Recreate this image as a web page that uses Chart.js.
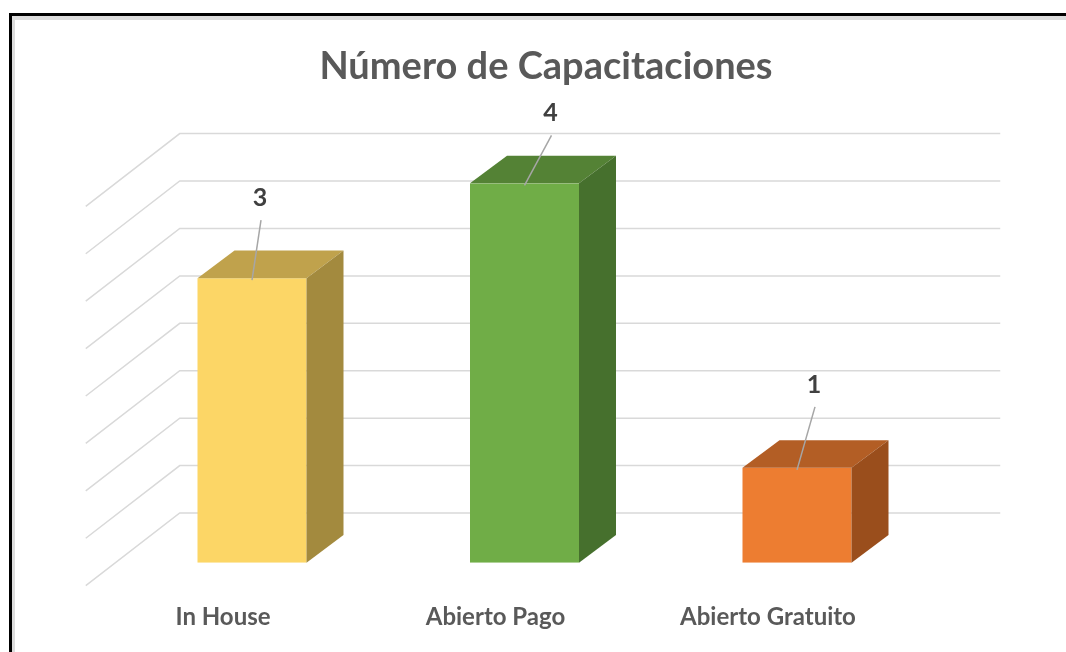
<!DOCTYPE html>
<html>
<head>
<meta charset="utf-8">
<script src="https://cdn.jsdelivr.net/npm/chart.js@4"></script>
<style>
  html, body { margin: 0; padding: 0; background: #fff; }
  #wrap { position: relative; width: 1066px; height: 652px; }
</style>
</head>
<body>
<div id="wrap"><canvas id="myChart"></canvas></div>
<script>
const categories = ['In House', 'Abierto Pago', 'Abierto Gratuito'];
const values = [3, 4, 1];
const yTicks = [0, 0.5, 1, 1.5, 2, 2.5, 3, 3.5, 4];

const frontColors = ['#FCD666', '#70AD47', '#ED7D31'];
const topColors = ['#C0A24C', '#548235', '#B35E25'];
const sideColors = ['#A38A3E', '#46702D', '#9A4E1C'];
// where each value label sits, relative to the top of its bar
const labelOffsets = [[8, -80], [26, -70], [17, -83]];

const depth = { bx: 37, by: -27.6, wallX: 64, wallY: -49.7, floorX: -30, floorY: 23 };

const frame = {
  id: 'frame',
  beforeDraw(chart) {
    const ctx = chart.ctx;
    ctx.save();
    ctx.fillStyle = '#dcdcdc';
    ctx.fillRect(11, 16, 4, 640);
    ctx.fillRect(11, 16, 1060, 4);
    ctx.fillStyle = '#000';
    ctx.fillRect(9, 13, 3, 640);
    ctx.fillRect(9, 13, 1060, 3);
    ctx.restore();
  },
};

const walls = {
  id: 'walls',
  beforeDatasetsDraw(chart) {
    const { ctx, scales: { x, y } } = chart;
    ctx.save();
    ctx.strokeStyle = '#d9d9d9';
    ctx.lineWidth = 1.5;
    y.ticks.forEach((t) => {
      const yp = y.getPixelForValue(t.value);
      ctx.beginPath();
      ctx.moveTo(x.left + depth.floorX, yp + depth.floorY);
      ctx.lineTo(x.left + depth.wallX, yp + depth.wallY);
      ctx.lineTo(x.right + depth.wallX + 3, yp + depth.wallY);
      ctx.stroke();
    });
    ctx.restore();
  },
};

const boxes = {
  id: 'boxes',
  afterDatasetsDraw(chart) {
    const ctx = chart.ctx;
    const meta = chart.getDatasetMeta(0);
    ctx.save();
    meta.data.forEach((bar, i) => {
      const { x, y, base, width } = bar.getProps(['x', 'y', 'base', 'width'], true);
      const l = x - width / 2;
      const r = x + width / 2;
      ctx.fillStyle = topColors[i];
      ctx.beginPath();
      ctx.moveTo(l, y);
      ctx.lineTo(l + depth.bx, y + depth.by);
      ctx.lineTo(r + depth.bx, y + depth.by);
      ctx.lineTo(r, y);
      ctx.closePath();
      ctx.fill();
      ctx.fillStyle = sideColors[i];
      ctx.beginPath();
      ctx.moveTo(r, y);
      ctx.lineTo(r + depth.bx, y + depth.by);
      ctx.lineTo(r + depth.bx, base + depth.by);
      ctx.lineTo(r, base);
      ctx.closePath();
      ctx.fill();

      // value label with leader line
      const lx = x + labelOffsets[i][0];
      const ly = y + labelOffsets[i][1];
      ctx.strokeStyle = '#a6a6a6';
      ctx.lineWidth = 1.5;
      ctx.beginPath();
      ctx.moveTo(lx + 1, ly + 22);
      ctx.lineTo(x, y + 2);
      ctx.stroke();
      ctx.fillStyle = '#404040';
      ctx.font = 'bold 25px Lato';
      ctx.textAlign = 'center';
      ctx.textBaseline = 'middle';
      ctx.fillText(String(values[i]), lx, ly);
    });
    ctx.restore();
  },
  afterDraw(chart) {
    const ctx = chart.ctx;
    ctx.save();
    ctx.fillStyle = '#595959';
    ctx.font = 'bold 38px Lato';
    ctx.textAlign = 'center';
    ctx.textBaseline = 'alphabetic';
    ctx.fillText('Número de Capacitaciones', 546, 79);
    ctx.restore();
  },
};

Chart.defaults.font.family = 'Lato';

new Chart(document.getElementById('myChart'), {
  type: 'bar',
  data: {
    labels: categories,
    datasets: [{
      data: values,
      backgroundColor: frontColors,
      borderWidth: 0,
      barPercentage: 0.4,
      categoryPercentage: 1,
    }],
  },
  options: {
    responsive: true,
    maintainAspectRatio: false,
    animation: false,
    layout: { padding: { top: 183.3, left: 115.75, right: 132.75, bottom: 19.3 } },
    plugins: { legend: { display: false }, tooltip: { enabled: false }, title: { display: false } },
    scales: {
      x: {
        grid: { display: false, drawTicks: false },
        border: { display: false },
        ticks: {
          labelOffset: -29,
          padding: 40,
          color: '#595959',
          font: { size: 24, weight: 'bold', lineHeight: 1.2 },
          maxRotation: 0,
        },
        afterFit(axis) {
          axis.height = 70;
        },
      },
      y: {
        display: false,
        min: 0,
        max: 4,
        afterBuildTicks(axis) {
          axis.ticks = yTicks.map((v) => ({ value: v }));
        },
      },
    },
  },
  plugins: [frame, walls, boxes],
});
</script>
</body>
</html>
